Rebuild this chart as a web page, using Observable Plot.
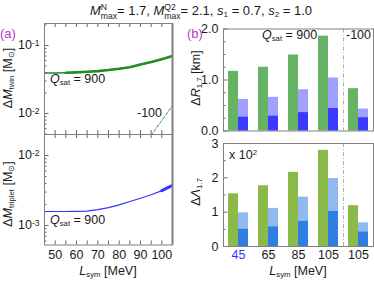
<!DOCTYPE html>
<html><head><meta charset="utf-8">
<script src="https://cdn.jsdelivr.net/npm/d3@7"></script>
<script src="https://cdn.jsdelivr.net/npm/@observablehq/plot@0.6"></script>
<style>
body{margin:0;background:#fff;font-family:"Liberation Sans",Arial,Helvetica,sans-serif;}
#wrap{position:relative;width:374px;height:281px;overflow:hidden;background:#fff;}
#wrap svg{position:absolute;left:0;top:0;overflow:visible;}
.lbl{position:absolute;white-space:nowrap;font-size:12.5px;color:#1a1a1a;line-height:1;}
.lbl sub{font-size:0.62em;vertical-align:-0.3em;line-height:0;}
.lbl sup{font-size:0.62em;vertical-align:0.55em;line-height:0;}
.ss{display:inline-block;vertical-align:-0.42em;font-size:0.66em;line-height:1.0;text-align:left;}
.ss span{display:block;}
.tag{color:#b03cc8;font-size:13px;}
</style></head>
<body><div id="wrap"></div>
<script>
// ---------------- data ----------------
const Lgrid      = [45, 50, 55, 60, 65, 70, 75, 80, 85, 90, 95, 100, 105];
const twin900    = [0.0395, 0.0395, 0.0398, 0.0403, 0.0410, 0.0420, 0.0435, 0.0455, 0.0480, 0.0525, 0.0570, 0.0630, 0.0700];
const twinL100   = [95, 100, 105];
const twin100    = [0.00475, 0.0079, 0.0131];
const triplet900 = [0.001585, 0.001585, 0.001585, 0.00159, 0.0016, 0.00168, 0.0018, 0.00197, 0.0022, 0.00245, 0.00275, 0.00315, 0.00373];

const groupLabels = ["45", "65", "85", "105", "105"];
const dR_total = [1.17, 1.25, 1.49, 1.86, 0.83];
const dR_light = [0.62, 0.66, 0.81, 1.04, 0.43];
const dR_dark  = [0.27, 0.29, 0.36, 0.44, 0.26];
const dL_total = [1.535, 1.77, 2.16, 2.80, 1.19];
const dL_light = [0.98, 1.11, 1.44, 1.98, 0.69];
const dL_dark  = [0.50, 0.57, 0.73, 1.02, 0.42];

const Lticks5   = [45, 50, 55, 60, 65, 70, 75, 80, 85, 90, 95, 100, 105];
const Lticks10  = [50, 60, 70, 80, 90, 100];
const majA1 = [0.01, 0.1];
const minA1 = [0.005, 0.006, 0.007, 0.008, 0.009, 0.02, 0.03, 0.04, 0.05, 0.06, 0.07, 0.08, 0.09, 0.2];
const majA2 = [0.001, 0.01];
const minA2 = [0.0006, 0.0007, 0.0008, 0.0009, 0.002, 0.003, 0.004, 0.005, 0.006, 0.007, 0.008, 0.009];
const majB1 = [0, 1, 2];
const minB1 = [0.25, 0.5, 0.75, 1.25, 1.5, 1.75];
const majB2 = [0, 1, 2, 3];
const minB2 = [0.5, 1.5, 2.5];

// ---------------- tables ----------------
const twinRows = Lgrid.map((L, i) => ({L, v: twin900[i]}));
const twin100Rows = twinL100.map((L, i) => ({L, v: twin100[i]}));
const tripRows = Lgrid.map((L, i) => ({L, v: triplet900[i]}));
const groups = groupLabels.map((g, i) => ({i, g, rt: dR_total[i], rl: dR_light[i], rd: dR_dark[i], lt: dL_total[i], ll: dL_light[i], ld: dL_dark[i]}));

// ---------------- layout ----------------
const W = 374, H = 281;
const FONT = "Liberation Sans, Arial, Helvetica, sans-serif";
const style = {background: "transparent", fontFamily: FONT, fontSize: "12.5px", color: "#1a1a1a", overflow: "visible"};
const fA1 = {l: 44, r: 172, t: 23, b: 134};
const fA2 = {l: 44, r: 172, t: 134, b: 244.5};
const fB1 = {l: 223, r: 373, t: 28.5, b: 130.5};
const fB2 = {l: 223, r: 373, t: 143, b: 246};
const mg = f => ({marginLeft: f.l, marginRight: W - f.r, marginTop: f.t, marginBottom: H - f.b});
const AX = "#666", FR = "#808080";
const green = "#1f8f1f", blue = "#3333ff";
const gB1 = "#66b366", lB1 = "#a0a0ff", dB1 = "#3a3aff";
const gB2 = "#8cba48", lB2 = "#90b9f0", dB2 = "#2f7fe0";

const wrap = document.getElementById("wrap");

function leftTicks(f, maj, mnr) {
  const w = f.r - f.l;
  return [
    Plot.tickY(mnr, {y: d => d, insetRight: w - 2.5, stroke: AX}),
    Plot.tickY(maj, {y: d => d, insetRight: w - 4.5, stroke: AX})
  ];
}

// Panel (a) top
const pA1 = Plot.plot({
  width: W, height: H, ...mg(fA1), style,
  x: {domain: [45, 105], axis: null},
  y: {type: "log", domain: [0.00491, 0.2106]},
  marks: [
    ...leftTicks(fA1, majA1, minA1),
    Plot.tickX(Lticks5, {x: d => d, insetTop: (fA1.b - fA1.t) - 4, stroke: AX}),
    Plot.tickX(Lticks5, {x: d => d, insetBottom: (fA1.b - fA1.t) - 4, stroke: AX}),
    Plot.axisY(majA1, {tickSize: 0, tickPadding: 5, label: null, tickFormat: d => "10^" + Math.round(Math.log10(d))}),
    Plot.line(twinRows, {x: "L", y: "v", stroke: green, strokeWidth: 1.4, clip: true}),
    Plot.line(twinRows.filter(d => d.L >= 55), {x: "L", y: "v", stroke: green, strokeWidth: 2.6, clip: true}),
    Plot.line(twin100Rows, {x: "L", y: "v", stroke: "#2a9a2a", strokeWidth: 1, strokeDasharray: "3,2", clip: true}),
    Plot.frame({stroke: FR}),
    Plot.ruleX([105], {stroke: FR, strokeWidth: 2})
  ]
});

// Panel (a) bottom
const pA2 = Plot.plot({
  width: W, height: H, ...mg(fA2), style,
  x: {domain: [45, 105]},
  y: {type: "log", domain: [0.000526, 0.01995]},
  marks: [
    ...leftTicks(fA2, majA2, minA2),
    Plot.tickX(Lticks5, {x: d => d, insetTop: (fA2.b - fA2.t) - 4, stroke: AX}),
    Plot.tickX(Lticks5, {x: d => d, insetBottom: (fA2.b - fA2.t) - 4, stroke: AX}),
    Plot.axisY(majA2, {tickSize: 0, tickPadding: 5, label: null, tickFormat: d => "10^" + Math.round(Math.log10(d))}),
    Plot.axisX(Lticks10, {tickSize: 0, tickPadding: 5, label: null}),
    Plot.line(tripRows, {x: "L", y: "v", stroke: blue, strokeWidth: 1.2, clip: true}),
    Plot.line(tripRows.filter(d => d.L >= 100), {x: "L", y: "v", stroke: blue, strokeWidth: 3, clip: true}),
    Plot.frame({stroke: FR}),
    Plot.ruleX([105], {stroke: FR, strokeWidth: 2})
  ]
});

function barPlot(f, dom, maj, mnr, kt, kl, kd, cg, cl, cd, withX) {
  return Plot.plot({
    width: W, height: H, ...mg(f), style,
    x: {domain: [0, 5], axis: null},
    y: {domain: dom},
    marks: [
      Plot.rectY(groups, {x1: d => d.i + 1/6, x2: d => d.i + 0.5, y: kt, fill: cg}),
      Plot.rectY(groups, {x1: d => d.i + 0.5, x2: d => d.i + 5/6, y: kl, fill: cl}),
      Plot.rectY(groups, {x1: d => d.i + 0.5, x2: d => d.i + 5/6, y: kd, fill: cd}),
      Plot.ruleX([4], {stroke: "#999", strokeDasharray: "4,2,1,2", strokeWidth: 0.8}),
      ...leftTicks(f, maj, mnr),
      Plot.axisY(maj, {tickSize: 0, tickPadding: 5, label: null}),
      ...(withX ? [Plot.axisX(groups.map(d => d.i + 0.5), {tickSize: 0, tickPadding: 4, label: null, tickFormat: v => groupLabels[Math.floor(v)]})] : []),
      Plot.frame({stroke: FR})
    ]
  });
}
const pB1 = barPlot(fB1, [0, 2], majB1, minB1, "rt", "rl", "rd", gB1, lB1, dB1, false);
const pB2 = barPlot(fB2, [0, 3], majB2, minB2, "lt", "ll", "ld", gB2, lB2, dB2, true);

for (const p of [pA1, pA2, pB1, pB2]) wrap.appendChild(p);

// superscripts on log tick labels
d3.select(wrap).selectAll("svg text").each(function() {
  const t = this.textContent;
  if (t.includes("^")) {
    const [b, e] = t.split("^");
    const s = d3.select(this);
    s.text(b);
    s.append("tspan").attr("dy", "-0.45em").attr("font-size", "8.5px").text(e);
  }
});
// blue first category label
d3.select(pB2).selectAll("g[aria-label='x-axis tick label'] text").filter((d, i) => i === 0).attr("fill", blue);

// ---------------- text overlays ----------------
function label(html, x, y, anchor = "middle", rotate = 0, cls = "") {
  const d = document.createElement("div");
  d.className = "lbl " + cls;
  d.innerHTML = html;
  d.style.left = x + "px";
  d.style.top = y + "px";
  const ax = anchor === "start" ? "0" : anchor === "end" ? "-100%" : "-50%";
  d.style.transform = `translate(${ax},-50%)` + (rotate ? ` rotate(${rotate}deg)` : "");
  wrap.appendChild(d);
  return d;
}
const title = label('<i>M</i><span class="ss"><span>N</span><span>max</span></span>= 1.7, <i>M</i><span class="ss"><span>Q2</span><span>max</span></span>= 2.1, <i>s</i><sub>1</sub> = 0.7, <i>s</i><sub>2</sub> = 1.0', 201, 3);
title.style.fontSize = "13px";
title.style.height = "13px";
title.style.lineHeight = "13px";
title.style.transform = "translate(-50%,0)";
label("(a)", 0, 33, "start", 0, "tag");
label("(b)", 187, 33, "start", 0, "tag");
label('Δ<i>M</i><sub>twin</sub> [M<sub>⊙</sub>]', 8, 78, "middle", -90);
label('Δ<i>M</i><sub>triplet</sub> [M<sub>⊙</sub>]', 8, 194, "middle", -90);
label('Δ<i>R</i><sub>1.7</sub> [km]', 196, 78, "middle", -90);
label('Δ<i>Λ</i><sub>1.7</sub>', 196, 192, "middle", -90);
label('<i>Q</i><sub>sat</sub> = 900', 50, 79, "start");
label('<i>Q</i><sub>sat</sub> = 900', 50, 220, "start");
label('-100', 137, 113, "start");
label('<i>Q</i><sub>sat</sub> = 900', 262, 35, "start");
label('-100', 346, 35, "start");
label('x 10<sup>2</sup>', 229, 155, "start");
label('<i>L</i><sub>sym</sub> [MeV]', 108, 271);
label('<i>L</i><sub>sym</sub> [MeV]', 298, 271);
</script>
</body></html>
